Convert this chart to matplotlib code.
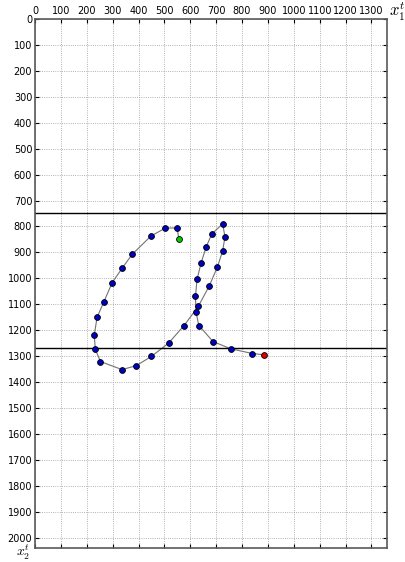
import matplotlib
matplotlib.use("Agg")
import matplotlib.pyplot as plt

plt.rcParams["mathtext.fontset"] = "cm"

# trajectory in image coordinates (x1, x2), start -> end
x1 = [556, 549, 504, 448, 375, 336, 298, 266, 240, 229, 233, 253, 336, 391,
      450, 516, 576, 631, 673, 705, 725, 734, 725, 683, 661, 642, 626, 620,
      622, 633, 688, 757, 840, 885]
x2 = [849, 806, 806, 837, 908, 962, 1017, 1091, 1150, 1218, 1274, 1321, 1352,
      1337, 1301, 1250, 1182, 1108, 1030, 956, 894, 840, 790, 829, 880, 940,
      1004, 1070, 1130, 1182, 1244, 1272, 1290, 1295]
hlines = [750, 1270]
xticks = list(range(0, 1301, 100))
yticks = list(range(0, 2001, 100))

fig = plt.figure(figsize=(4.06, 5.62), dpi=100)
ax = fig.add_axes([35 / 406, 1 - 548 / 562, 352 / 406, 529 / 562])

ax.plot(x1, x2, color="0.45", lw=0.8, zorder=2)
ax.plot(x1[1:-1], x2[1:-1], ls="none", marker="o", ms=4.2,
        mfc="#0000c0", mec="k", mew=0.6, zorder=3)
ax.plot(x1[0], x2[0], ls="none", marker="o", ms=4.2,
        mfc="#00cc00", mec="k", mew=0.6, zorder=3)
ax.plot(x1[-1], x2[-1], ls="none", marker="o", ms=4.2,
        mfc="#dd0000", mec="k", mew=0.6, zorder=3)
for h in hlines:
    ax.axhline(h, color="k", lw=1.0, zorder=2)

ax.set_xlim(0, 1360)
ax.set_ylim(2040, 0)
ax.set_xticks(xticks)
ax.set_yticks(yticks)
ax.xaxis.tick_top()
ax.tick_params(which="both", direction="in", top=True, bottom=True,
               left=True, right=True, labelsize=7, length=3, pad=2)
ax.grid(True, linestyle=":", color="0.6", lw=0.6)
for s in ax.spines.values():
    s.set_color("0.35")
    s.set_linewidth(1.2)

ax.set_xlabel("$x^t_1$", fontsize=12)
ax.xaxis.set_label_position("top")
ax.xaxis.set_label_coords(1.028, 1.015)
ax.xaxis.label.set_va("center")
ax.xaxis.label.set_ha("center")
ax.set_ylabel("$x^t_2$", fontsize=10, rotation=0)
ax.yaxis.set_label_coords(-0.034, -0.0262)
ax.yaxis.label.set_va("bottom")
ax.yaxis.label.set_ha("center")

fig.savefig("out.png", dpi=100)
